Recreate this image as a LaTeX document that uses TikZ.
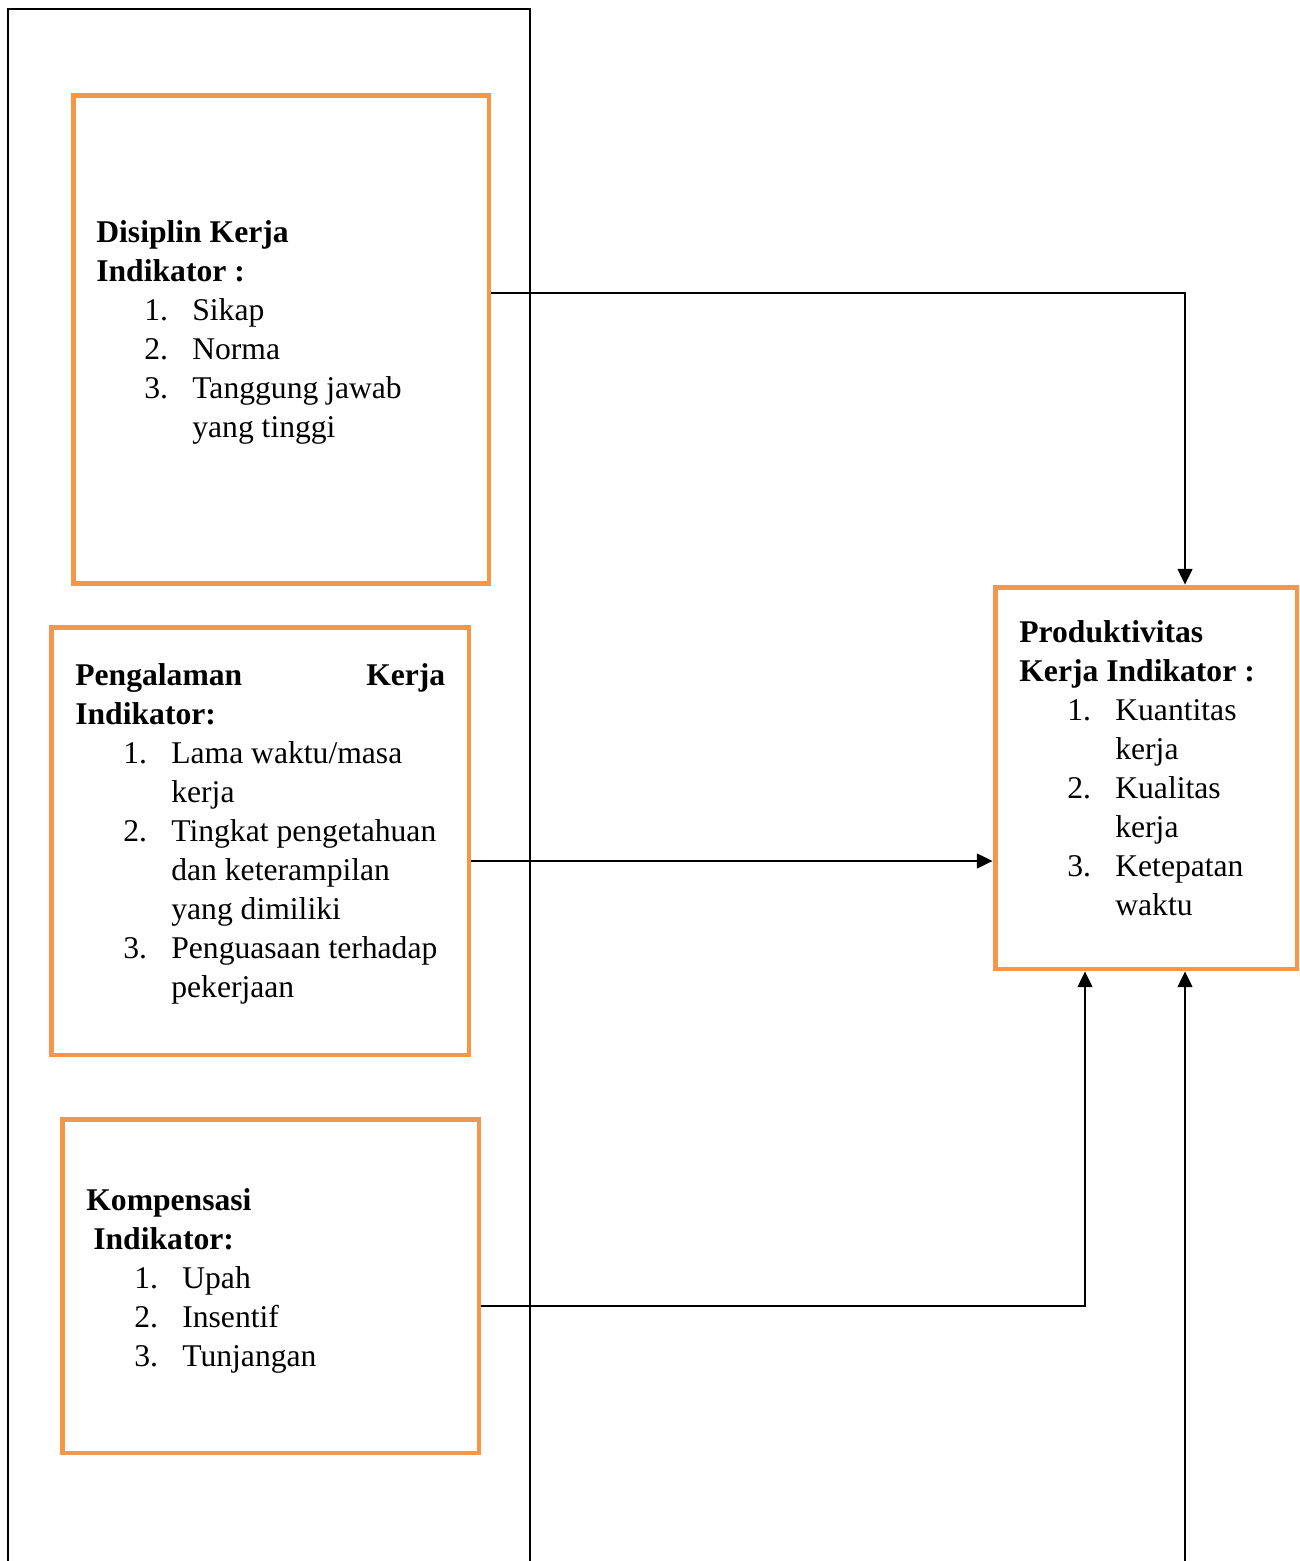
\documentclass[tikz,border=0pt]{standalone}
\usepackage{fontspec}
\setmainfont{Liberation Serif}
\usetikzlibrary{arrows.meta}

\definecolor{boxorange}{HTML}{F79646}
\newcommand{\numitem}[2]{\hspace*{0.96cm}\makebox[0.96cm][l]{#1}#2}
\newcommand{\numcont}[1]{\hspace*{1.92cm}#1}

\begin{document}
\begin{tikzpicture}[x=0.02cm, y=-0.02cm,
  obox/.style={draw=boxorange, line width=2.8pt, rectangle, inner sep=0pt},
  txt/.style={anchor=base west, inner sep=0pt, font=\fontsize{18}{22.2}\selectfont},
  link/.style={line width=1pt, -{Triangle[length=9pt, width=8.5pt]}}]
  \useasboundingbox (0,0) rectangle (1300,1561);
  % outer frame
  \draw[line width=0.9pt] (8,1561) -- (8,9) -- (530,9) -- (530,1561);

  % boxes
  \node[obox, minimum width=8.32cm, minimum height=9.78cm] (disiplin) at (281,339.5) {};
  \node[obox, minimum width=8.36cm, minimum height=8.56cm] (pengalaman) at (260,841) {};
  \node[obox, minimum width=8.34cm, minimum height=6.68cm] (kompensasi) at (270.5,1286) {};
  \node[obox, minimum width=6.04cm, minimum height=7.64cm] (produktivitas) at (1146,778) {};

  % texts
  \node[txt] (disiplintxt) at (96,242) {\begin{tabular}[t]{@{}l@{}}
    \textbf{Disiplin Kerja}\\
    \textbf{Indikator :}\\
    \numitem{1.}{Sikap}\\
    \numitem{2.}{Norma}\\
    \numitem{3.}{Tanggung jawab}\\
    \numcont{yang tinggi}
  \end{tabular}};
  \node[txt] (pengalamantxt) at (75,685) {\begin{tabular}[t]{@{}l@{}}
    \makebox[7.4cm][s]{\textbf{Pengalaman Kerja}}\\
    \textbf{Indikator:}\\
    \numitem{1.}{Lama waktu/masa}\\
    \numcont{kerja}\\
    \numitem{2.}{Tingkat pengetahuan}\\
    \numcont{dan keterampilan}\\
    \numcont{yang dimiliki}\\
    \numitem{3.}{Penguasaan terhadap}\\
    \numcont{pekerjaan}
  \end{tabular}};
  \node[txt] (kompensasitxt) at (86,1210) {\begin{tabular}[t]{@{}l@{}}
    \textbf{Kompensasi}\\
    \hspace*{0.14cm}\textbf{Indikator:}\\
    \numitem{1.}{Upah}\\
    \numitem{2.}{Insentif}\\
    \numitem{3.}{Tunjangan}
  \end{tabular}};
  \node[txt] (produktivitastxt) at (1019,642) {\begin{tabular}[t]{@{}l@{}}
    \textbf{Produktivitas}\\
    \textbf{Kerja Indikator :}\\
    \numitem{1.}{Kuantitas}\\
    \numcont{kerja}\\
    \numitem{2.}{Kualitas}\\
    \numcont{kerja}\\
    \numitem{3.}{Ketepatan}\\
    \numcont{waktu}
  \end{tabular}};

  % connectors
  \coordinate (bendtop) at (1185,293);
  \coordinate (midrow) at (700,861);
  \coordinate (bendlow) at (1085,1306);
  \coordinate (foot) at (1185,1561);
  \draw[link] (disiplin.east |- bendtop) -- (bendtop) -- (produktivitas.north -| bendtop);
  \draw[link] (pengalaman.east |- midrow) -- (produktivitas.west |- midrow);
  \draw[link] (kompensasi.east |- bendlow) -- (bendlow) -- (produktivitas.south -| bendlow);
  \draw[link] (foot) -- (produktivitas.south -| foot);
\end{tikzpicture}
\end{document}
